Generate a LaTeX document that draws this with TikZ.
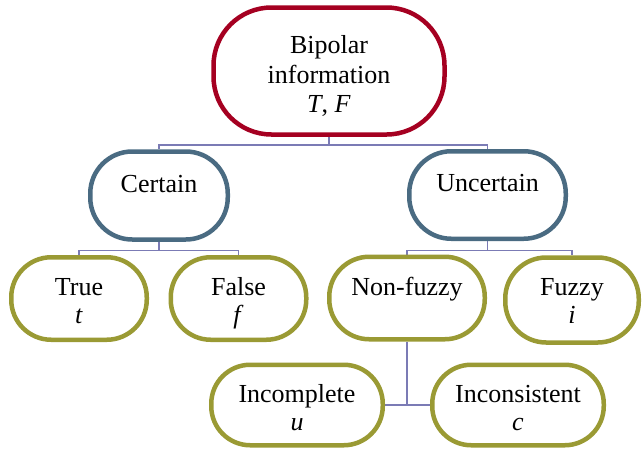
\documentclass[tikz,border=0pt]{standalone}
\usepackage{fontspec}
\setmainfont{Liberation Serif}
\usetikzlibrary{backgrounds}
\definecolor{topred}{HTML}{A50021}
\definecolor{midblue}{HTML}{4A6B82}
\definecolor{leafolive}{HTML}{9A9A34}
\definecolor{conn}{HTML}{7B7BB5}
\begin{document}
\begin{tikzpicture}[x=1pt,y=-1pt,
  pill/.style={draw, line width=4.5pt, fill=white, inner sep=0pt},
  topbox/.style={pill, draw=topred},
  midbox/.style={pill, draw=midblue},
  leafbox/.style={pill, draw=leafolive},
  lbl/.style={anchor=base, inner sep=0pt, font=\fontsize{26}{30}\selectfont},
  link/.style={draw=conn, line width=1.5pt}]
\useasboundingbox (0,0) rectangle (642,451);

\node[topbox, minimum width=231pt, minimum height=127pt, rounded corners=58pt] (top) at (329,71) {};
\node[midbox, minimum width=137.5pt, minimum height=88pt, rounded corners=42pt] (certain) at (159,195.5) {};
\node[midbox, minimum width=156.5pt, minimum height=87.5pt, rounded corners=42pt] (uncertain) at (487.5,195) {};
\node[leafbox, minimum width=135.5pt, minimum height=82.5pt, rounded corners=40pt] (true) at (79,298.5) {};
\node[leafbox, minimum width=135.5pt, minimum height=82.5pt, rounded corners=40pt] (false) at (238.5,298.5) {};
\node[leafbox, minimum width=155.5pt, minimum height=82.5pt, rounded corners=40pt] (nonfuzzy) at (407,298) {};
\node[leafbox, minimum width=133.5pt, minimum height=85pt, rounded corners=41pt] (fuzzy) at (572,300) {};
\node[leafbox, minimum width=171.5pt, minimum height=80.5pt, rounded corners=39pt] (incomplete) at (297,405) {};
\node[leafbox, minimum width=171.5pt, minimum height=80.5pt, rounded corners=39pt] (inconsistent) at (518,405) {};

% labels
\node[lbl] (topA) at (329,53) {Bipolar};
\node[lbl] (topB) at (329,83) {information};
\node[lbl] (topC) at (329,112) {\textit{T}, \textit{F}};
\node[lbl] (certainA) at (159,192) {Certain};
\node[lbl] (uncertainA) at (487.5,191) {Uncertain};
\node[lbl] (trueA) at (79,295) {True};
\node[lbl] (trueB) at (79,323) {\textit{t}};
\node[lbl] (falseA) at (238.5,295) {False};
\node[lbl] (falseB) at (238.5,323) {\textit{f}};
\node[lbl] (nonfuzzyA) at (407,295) {Non-fuzzy};
\node[lbl] (fuzzyA) at (572,295) {Fuzzy};
\node[lbl] (fuzzyB) at (572,323) {\textit{i}};
\node[lbl] (incompleteA) at (297,402) {Incomplete};
\node[lbl] (incompleteB) at (297,430) {\textit{u}};
\node[lbl] (inconsistentA) at (518,402) {Inconsistent};
\node[lbl] (inconsistentB) at (518,430) {\textit{c}};

\begin{scope}[on background layer]
\draw[link] (top.south) -- ++(0,8.25) -| (certain.north);
\draw[link] (top.south) -- ++(0,8.25) -| (uncertain.north);
\draw[link] (certain.south) -- ++(0,8.5) -| (true.north);
\draw[link] (certain.south) -- ++(0,8.5) -| (false.north);
\draw[link] (uncertain.south) -- ++(0,9.25) -| (nonfuzzy.north);
\draw[link] (uncertain.south) -- ++(0,9.25) -| (fuzzy.north);
\draw[link] (nonfuzzy.south) |- (inconsistent.west);
\draw[link] (incomplete.east) -- (inconsistent.west);
\end{scope}
\end{tikzpicture}
\end{document}
